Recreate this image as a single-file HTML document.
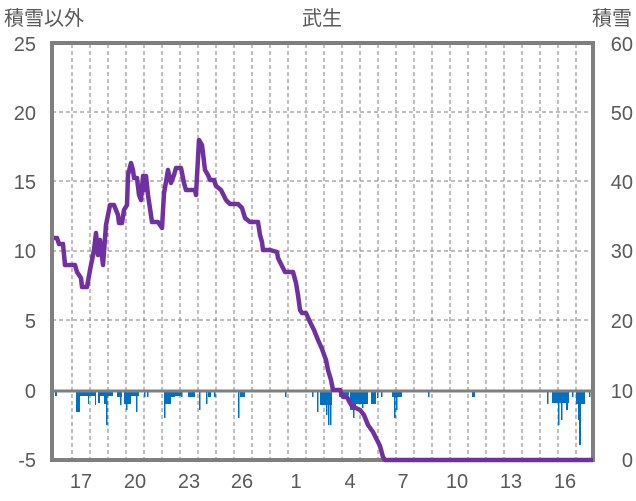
<!DOCTYPE html>
<html><head><meta charset="utf-8"><style>
html,body{margin:0;padding:0;background:#fff;}
svg{display:block;font-family:"Liberation Sans","Noto Sans CJK JP",sans-serif;}
</style></head><body>
<svg width="636" height="501" viewBox="0 0 636 501" xmlns="http://www.w3.org/2000/svg">
<rect width="636" height="501" fill="#fff"/>
<g stroke="#7f7f7f" stroke-width="1" stroke-dasharray="4,3">
<line x1="72" y1="44" x2="72" y2="459"/><line x1="90" y1="44" x2="90" y2="459"/><line x1="108" y1="44" x2="108" y2="459"/><line x1="126" y1="44" x2="126" y2="459"/><line x1="144" y1="44" x2="144" y2="459"/><line x1="162" y1="44" x2="162" y2="459"/><line x1="180" y1="44" x2="180" y2="459"/><line x1="198" y1="44" x2="198" y2="459"/><line x1="216" y1="44" x2="216" y2="459"/><line x1="234" y1="44" x2="234" y2="459"/><line x1="252" y1="44" x2="252" y2="459"/><line x1="270" y1="44" x2="270" y2="459"/><line x1="288" y1="44" x2="288" y2="459"/><line x1="306" y1="44" x2="306" y2="459"/><line x1="324" y1="44" x2="324" y2="459"/><line x1="342" y1="44" x2="342" y2="459"/><line x1="360" y1="44" x2="360" y2="459"/><line x1="378" y1="44" x2="378" y2="459"/><line x1="396" y1="44" x2="396" y2="459"/><line x1="414" y1="44" x2="414" y2="459"/><line x1="432" y1="44" x2="432" y2="459"/><line x1="450" y1="44" x2="450" y2="459"/><line x1="468" y1="44" x2="468" y2="459"/><line x1="486" y1="44" x2="486" y2="459"/><line x1="504" y1="44" x2="504" y2="459"/><line x1="522" y1="44" x2="522" y2="459"/><line x1="540" y1="44" x2="540" y2="459"/><line x1="558" y1="44" x2="558" y2="459"/><line x1="576" y1="44" x2="576" y2="459"/>
<line x1="52" y1="112" x2="593" y2="112"/><line x1="52" y1="181" x2="593" y2="181"/><line x1="52" y1="251" x2="593" y2="251"/><line x1="52" y1="320" x2="593" y2="320"/>
</g>
<g fill="#0070C0">
<rect x="55" y="391" width="2" height="5"/>
<rect x="76" y="391" width="4" height="21"/>
<rect x="80" y="391" width="16" height="5"/>
<rect x="88" y="391" width="1" height="13"/><rect x="95" y="391" width="1" height="14"/>
<rect x="98" y="391" width="2" height="12"/>
<rect x="100" y="391" width="13" height="5"/>
<rect x="104" y="391" width="3" height="13"/><rect x="106" y="391" width="1.5" height="34"/>
<rect x="117" y="391" width="5" height="6"/><rect x="120" y="391" width="1.5" height="14"/>
<rect x="124" y="391" width="7" height="13"/><rect x="126" y="391" width="1.5" height="19"/>
<rect x="131" y="391" width="8" height="5"/><rect x="136" y="391" width="1.5" height="21"/>
<rect x="144" y="391" width="1.5" height="6"/><rect x="147" y="391" width="1.5" height="6"/>
<rect x="164" y="391" width="1.5" height="27"/><rect x="165" y="391" width="6" height="13"/><rect x="171" y="391" width="4" height="6"/>
<rect x="175" y="391" width="6" height="5"/><rect x="181" y="391" width="1.5" height="6"/>
<rect x="188" y="391" width="7" height="6"/><rect x="199" y="391" width="1.5" height="19"/><rect x="206" y="391" width="1.5" height="13"/>
<rect x="208" y="391" width="3" height="6"/><rect x="214" y="391" width="1.5" height="6"/>
<rect x="238" y="391" width="1.5" height="27"/><rect x="240" y="391" width="5" height="6"/>
<rect x="285" y="391" width="1.5" height="6"/>
<rect x="312" y="391" width="1.5" height="6"/><rect x="317" y="391" width="1.5" height="21"/>
<rect x="320" y="391" width="12" height="14"/><rect x="326" y="391" width="1.5" height="24"/><rect x="328" y="391" width="1.5" height="34"/><rect x="330" y="391" width="1.5" height="34"/>
<rect x="339" y="391" width="3" height="6"/><rect x="342" y="391" width="7" height="4"/>
<rect x="350" y="391" width="6" height="19"/><rect x="353" y="391" width="1.5" height="27"/>
<rect x="356" y="391" width="12" height="13"/><rect x="362" y="391" width="1.5" height="17"/>
<rect x="371" y="391" width="5" height="13"/><rect x="377" y="391" width="1.5" height="7"/><rect x="381" y="391" width="1.5" height="6"/>
<rect x="392" y="391" width="10" height="6"/><rect x="394" y="391" width="1.5" height="27"/><rect x="396" y="391" width="1.5" height="19"/>
<rect x="428" y="391" width="1.5" height="6"/><rect x="472" y="391" width="3" height="6"/>
<rect x="547" y="391" width="1.5" height="13"/><rect x="552" y="391" width="17" height="12"/><rect x="558" y="391" width="1.5" height="34"/><rect x="561" y="391" width="1.5" height="29"/><rect x="566" y="391" width="2" height="19"/><rect x="572" y="391" width="1.5" height="6"/>
<rect x="576" y="391" width="9" height="13"/><rect x="578" y="391" width="1.5" height="29"/><rect x="579" y="391" width="2" height="54"/><rect x="589" y="391" width="1.5" height="6"/>
</g>
<line x1="52" y1="391" x2="593" y2="391" stroke="#7f7f7f" stroke-width="3"/>
<rect x="52" y="43" width="541" height="417" fill="none" stroke="#7f7f7f" stroke-width="4"/>
<polyline fill="none" stroke="#7030A0" stroke-width="4.5" stroke-linejoin="round" points="54,238 57,238 59,244 63,244 65,265 75,265 77,272 81,278 82,287 87,287 90,270 94,250 96,233 98,255 100,240 103,265 106,225 108,215 110,205 114,205 118,215 119,223 122,223 124,210 127,205 128,175 131,163 133,170 134,178 137,178 139,195 141,200 143,176 145,190 146,176 148,195 152,222 158,222 162,228 164,193 166,182 168,170 171,183 174,175 176,168 181,168 184,183 186,190 195,190 196,195 199,140 202,145 205,170 208,175 210,180 214,180 216,186 221,190 226,200 230,204 238,204 242,208 245,218 250,222 258,222 260,235 262,242 263,250 270,250 277,252 278,258 282,266 285,272 293,272 296,283 298,295 300,310 302,313 306,313 310,322 314,330 318,340 322,349 326,360 328,370 331,380 333,390 340,390 343,397 347,397 350,403 352,406 356,408 360,410 364,415 368,425 373,432 376,438 380,446 383,457 385,460 593,460"/>
<g fill="#595959" font-size="20">
<text x="4" y="25">積雪以外</text>
<text x="322" y="25" text-anchor="middle">武生</text>
<text x="632" y="25" text-anchor="end">積雪</text>
<g text-anchor="end">
<text x="36" y="51">25</text><text x="36" y="120">20</text><text x="36" y="189">15</text><text x="36" y="258">10</text><text x="36" y="328">5</text><text x="36" y="398">0</text><text x="36" y="467">-5</text>
</g>
<g text-anchor="end">
<text x="633" y="51">60</text><text x="633" y="120">50</text><text x="633" y="189">40</text><text x="633" y="258">30</text><text x="633" y="328">20</text><text x="633" y="398">10</text><text x="633" y="467">0</text>
</g>
<g text-anchor="middle">
<text x="81" y="488">17</text><text x="135" y="488">20</text><text x="189" y="488">23</text><text x="242" y="488">26</text><text x="296" y="488">1</text><text x="350" y="488">4</text><text x="403" y="488">7</text><text x="457" y="488">10</text><text x="511" y="488">13</text><text x="565" y="488">16</text>
</g>
</g>
</svg>
</body></html>
